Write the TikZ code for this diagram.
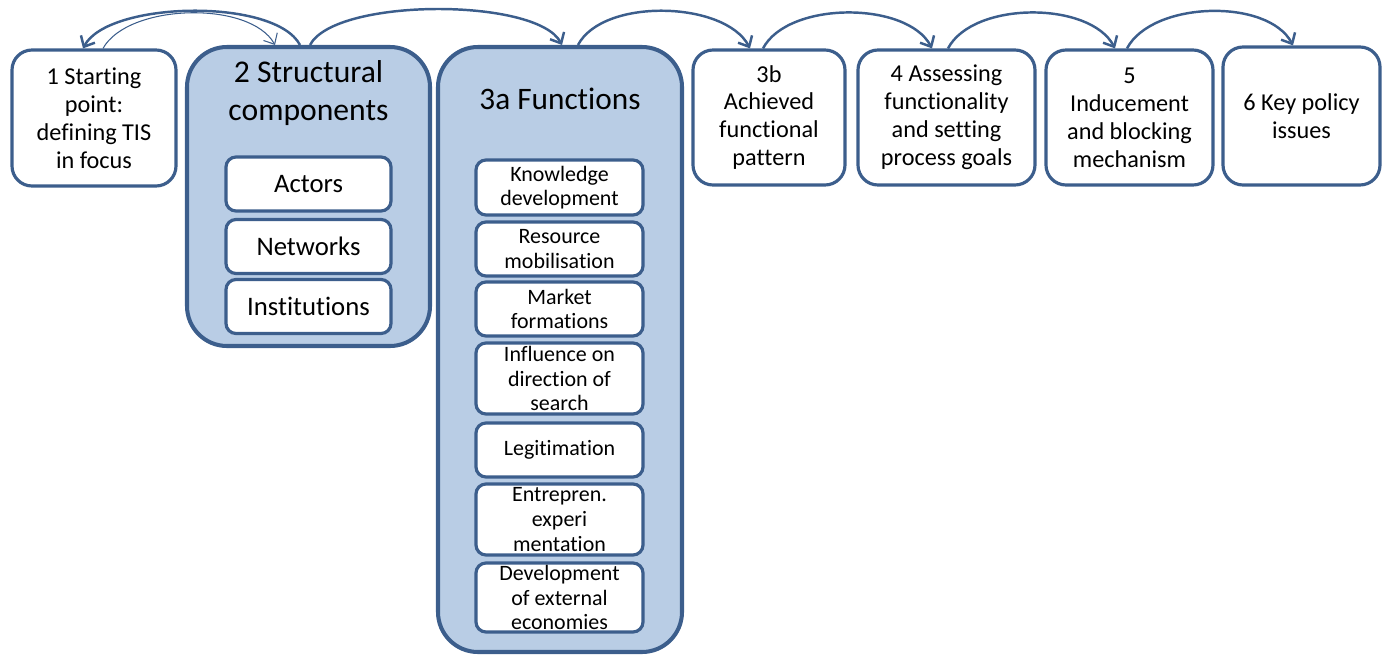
\documentclass[tikz,border=0pt]{standalone}
\usepackage{fontspec}
\setmainfont{Carlito}[Ligatures=CommonOff]
\usetikzlibrary{arrows.meta}
\definecolor{myblue}{HTML}{3C5E8C}
\definecolor{mylight}{HTML}{B9CDE5}

\begin{document}
\begin{tikzpicture}
\tikzset{stagebox/.style ={draw=myblue,line width=1.8pt,fill=white,rounded corners=0.4cm,
  align=center,inner sep=0pt,minimum height=2.7cm,font=\fontsize{13.8}{15.9}\selectfont}}
\tikzset{groupbox/.style ={draw=myblue,line width=2.3pt,fill=mylight,rounded corners=0.8cm}}
\tikzset{itembox/.style ={draw=myblue,line width=1.8pt,fill=white,rounded corners=0.2cm,
  align=center,inner sep=0pt,minimum width=3.3cm,minimum height=1.08cm,font=\fontsize{15.2}{17}\selectfont}}
\tikzset{funcbox/.style ={itembox,minimum width=3.34cm,font=\fontsize{12.5}{14}\selectfont}}
\tikzset{flow/.style ={line width=1.4pt,color=myblue,-{Straight Barb[length=5pt,width=9pt,line width=1.4pt]}}}
\useasboundingbox (0,0) rectangle (27.7,-13.1);
% outer boxes
\node[stagebox,minimum width=3.28cm,minimum height=2.72cm] (S1) at (1.88,-2.36) {1 Starting\\point:\\defining TIS\\in focus};
\node[groupbox,minimum width=4.86cm,minimum height=5.98cm] (S2) at (6.17,-3.93) {};
\node[groupbox,minimum width=4.88cm,minimum height=12.1cm] (S3a) at (11.2,-6.99) {};
\node[stagebox,minimum width=3.04cm] (S3b) at (15.38,-2.35) {3b\\Achieved\\functional\\pattern};
\node[stagebox,minimum width=3.54cm] (S4) at (18.93,-2.35) {4 Assessing\\functionality\\and setting\\process goals};
\node[stagebox,minimum width=3.34cm] (S5) at (22.59,-2.35) {5\\Inducement\\and blocking\\mechanism};
\node[stagebox,minimum width=3.14cm,minimum height=2.76cm] (S6) at (26.03,-2.32) {6 Key policy\\issues};
% titles
\node[align=center,font=\fontsize{18}{21.5}\selectfont] (T2) at (6.17,-1.86) {2 Structural\\components};
\node[font=\fontsize{17.8}{21.5}\selectfont] (T3a) at (11.2,-1.98) {3a Functions};
% structural components
\node[itembox] (actors) at (6.17,-3.68) {Actors};
\node[itembox] (networks) at (6.17,-4.93) {Networks};
\node[itembox] (institutions) at (6.17,-6.13) {Institutions};
% functions
\node[funcbox,minimum height=1.1cm] (knowledge) at (11.19,-3.75) {Knowledge\\development};
\node[funcbox] (resource) at (11.19,-4.98) {Resource\\mobilisation};
\node[funcbox] (market) at (11.19,-6.18) {Market\\formations};
\node[funcbox,minimum height=1.42cm] (influence) at (11.19,-7.57) {Influence on\\direction of\\search};
\node[funcbox] (legitimation) at (11.19,-9.0) {Legitimation};
\node[funcbox,minimum height=1.42cm] (entrepren) at (11.19,-10.39) {Entrepren.\\experi\\mentation};
\node[funcbox,minimum height=1.38cm] (external) at (11.19,-11.95) {Development\\of external\\economies};
% arcs
\draw[flow] ([xshift=-0.17cm]S2.north) .. controls +(-0.5,0.95) and +(0.5,0.95) .. ([xshift=-0.22cm]S1.north);
\draw[flow,line width=0.6pt,-{Straight Barb[length=5pt,width=9pt,line width=0.6pt]}] ([xshift=0.18cm]S1.north) .. controls +(0.5,0.9) and +(-0.5,0.9) .. ([xshift=-0.67cm]S2.north);
\draw[flow] ([xshift=0.03cm]S2.north) .. controls +(0.5,0.95) and +(-0.5,0.95) .. ([xshift=0.04cm]S3a.north);
\draw[flow] ([xshift=0.36cm]S3a.north) .. controls +(0.5,0.95) and +(-0.5,0.95) .. ([xshift=-0.38cm]S3b.north);
\draw[flow] ([xshift=-0.12cm]S3b.north) .. controls +(0.5,0.95) and +(-0.5,0.95) .. ([xshift=-0.29cm]S4.north);
\draw[flow] ([xshift=0.03cm]S4.north) .. controls +(0.5,0.95) and +(-0.5,0.95) .. ([xshift=-0.29cm]S5.north);
\draw[flow] ([xshift=-0.05cm]S5.north) .. controls +(0.5,0.95) and +(-0.5,0.95) .. ([xshift=-0.17cm]S6.north);
\end{tikzpicture}
\end{document}
